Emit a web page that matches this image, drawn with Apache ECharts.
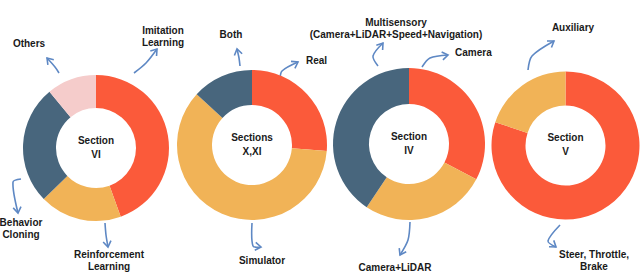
<!DOCTYPE html>
<html>
<head>
<meta charset="utf-8">
<script src="https://cdn.jsdelivr.net/npm/echarts@6/dist/echarts.min.js"></script>
<style>html,body{margin:0;padding:0;background:#fff}#c{width:640px;height:272px}</style>
</head>
<body>
<div id="c"></div>
<script>
// ---- data ----
const categories1 = ['Imitation Learning', 'Reinforcement Learning', 'Behavior Cloning', 'Others'];
const values1 = [44.5, 18.2, 26.3, 11.0];
const categories2 = ['Real', 'Simulator', 'Both'];
const values2 = [26.3, 60.5, 13.2];
const categories3 = ['Camera', 'Camera+LiDAR', 'Multisensory (Camera+LiDAR+Speed+Navigation)'];
const values3 = [32.7, 26.7, 40.6];
const categories4 = ['Steer, Throttle, Brake', 'Auxiliary'];
const values4 = [80.1, 19.9];
const sectionTitles = ['Section\nVI', 'Sections\nX,XI', 'Section\nIV', 'Section\nV'];
const labels1 = ['Imitation\nLearning', 'Reinforcement\nLearning', 'Behavior\nCloning', 'Others'];
const labels2 = ['Real', 'Simulator', 'Both'];
const labels3 = ['Camera', 'Camera+LiDAR', 'Multisensory\n(Camera+LiDAR+Speed+Navigation)'];
const labels4 = ['Steer, Throttle,\nBrake', 'Auxiliary'];

// ---- styles / layout ----
const RED = '#fb5a3a', YEL = '#f1b357', BLU = '#48667d', PNK = '#f5cccb';
const ARROW = '#5e88c4';
const FONT = '"Liberation Sans", Arial, sans-serif';
const pies = [
  {cats: categories1, vals: values1, colors: [RED, YEL, BLU, PNK], center: [96, 148], r: [40, 73]},
  {cats: categories2, vals: values2, colors: [RED, YEL, BLU], center: [252, 145], r: [40, 75]},
  {cats: categories3, vals: values3, colors: [RED, YEL, BLU], center: [409, 144], r: [40, 76]},
  {cats: categories4, vals: values4, colors: [RED, YEL], center: [565.5, 145.5], r: [40, 74]}
];
// label placements: [text, x, y, align]
const labelPos = [
  [labels1[0], 163, 36, 'center'], [labels1[1], 109, 260, 'center'], [labels1[2], 21, 228, 'center'], [labels1[3], 29, 43, 'center'],
  [labels2[0], 306, 60, 'left'], [labels2[1], 262, 260, 'center'], [labels2[2], 231, 34, 'center'],
  [labels3[0], 455, 52, 'left'], [labels3[1], 395, 267, 'center'], [labels3[2], 396, 28, 'center'],
  [labels4[0], 594, 260, 'center'], [labels4[1], 573, 27, 'center']
];
const arrows = [
  [[134,73],[146,63],[157,49]],
  [[59,73],[55,67],[47,58]],
  [[21,179],[13,182],[18,213]],
  [[105,223],[106,235],[108,247]],
  [[240,66],[239,58],[237,49]],
  [[280,80],[282,71],[298,62]],
  [[252,223],[253,246],[261,247]],
  [[378,66],[373,56],[383,43]],
  [[422,67],[430,58],[448,55]],
  [[410,222],[408,240],[400,255]],
  [[528,70],[532,56],[554,41]],
  [[560,225],[548,241],[556,247]]
];

const series = pies.map(p => ({
  type: 'pie',
  center: p.center,
  radius: p.r,
  startAngle: 90,
  clockwise: true,
  silent: true,
  label: {show: false},
  labelLine: {show: false},
  itemStyle: {borderWidth: 0},
  data: p.cats.map((c, i) => ({name: c, value: p.vals[i], itemStyle: {color: p.colors[i]}}))
}));

const graphic = [];
pies.forEach((p, i) => {
  graphic.push({type: 'text', x: p.center[0], y: p.center[1] - 1, silent: true,
    style: {text: sectionTitles[i], align: 'center', verticalAlign: 'middle', fontFamily: FONT,
      fontWeight: 'bold', fontSize: 10, lineHeight: 14, fill: '#1a1a1a'}});
});
labelPos.forEach(l => {
  graphic.push({type: 'text', x: l[1], y: l[2], silent: true,
    style: {text: l[0], align: l[3], verticalAlign: 'middle', fontFamily: FONT,
      fontWeight: 'bold', fontSize: 10, lineHeight: 12, fill: '#1a1a1a'}});
});
arrows.forEach(pts => {
  graphic.push({type: 'polyline', silent: true, shape: {points: pts, smooth: 0.3},
    style: {stroke: ARROW, lineWidth: 1.6, fill: null}});
  const a = pts[pts.length - 2], b = pts[pts.length - 1];
  const ang = Math.atan2(b[1] - a[1], b[0] - a[0]);
  const L = 7, w = 0.6;
  const p1 = [b[0] - L * Math.cos(ang - w), b[1] - L * Math.sin(ang - w)];
  const p2 = [b[0] - L * Math.cos(ang + w), b[1] - L * Math.sin(ang + w)];
  graphic.push({type: 'polyline', silent: true, shape: {points: [p1, b, p2]},
    style: {stroke: ARROW, lineWidth: 1.6, fill: null}});
});

const chart = echarts.init(document.getElementById('c'), null, {renderer: 'svg'});
chart.setOption({
  animation: false,
  backgroundColor: '#fff',
  series: series,
  graphic: graphic
});
</script>
</body>
</html>
